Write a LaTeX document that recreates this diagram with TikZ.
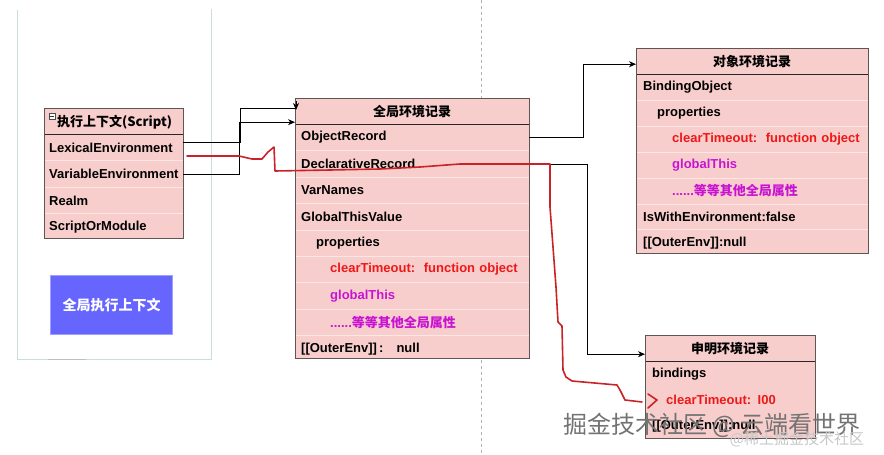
\documentclass[tikz,border=0pt]{standalone}
\usepackage{fontspec}
\setmainfont{Liberation Sans}
\newfontfamily\cjk{Noto Sans CJK SC}
\usetikzlibrary{arrows.meta,calc}
\definecolor{recfill}{RGB}{248,206,204}
\definecolor{recline}{RGB}{95,85,85}
\definecolor{sepline}{RGB}{252,230,230}
\definecolor{txtred}{RGB}{238,24,24}
\definecolor{txtmag}{RGB}{200,20,210}
\definecolor{inkred}{RGB}{200,36,40}
\definecolor{framec}{RGB}{200,222,218}
\definecolor{ctxblue}{RGB}{102,102,255}
\definecolor{ctxbord}{RGB}{160,160,255}
\begin{document}
\begin{tikzpicture}[x=1pt,y=-1pt,
  recbox/.style={fill=recfill, inner sep=0, anchor=north west},
  recedge/.style={draw=recline, line width=0.8pt},
  hdr/.style={inner sep=0, minimum height=26pt, anchor=north west, font=\cjk\bfseries\fontsize{13}{15}\selectfont},
  hline/.style={draw=black!85, line width=0.8pt},
  rowsep/.style={draw=sepline, line width=0.8pt},
  rowbase/.style={inner ysep=0, anchor=north west, align=left, font=\bfseries\fontsize{13}{15}\selectfont},
  erow/.style={rowbase, inner xsep=5pt, text width=129pt, minimum height=26pt},
  glrow/.style={rowbase, inner xsep=6pt, text width=222pt, minimum height=26pt},
  obrow/.style={rowbase, inner xsep=7pt, text width=218pt, minimum height=25.5pt},
  dcrow/.style={rowbase, inner xsep=7pt, text width=156pt, minimum height=25.5pt},
  conn/.style={draw=black, line width=0.8pt},
  arr/.style={conn, -{Stealth[length=7pt,width=6pt]}},
  ink/.style={draw=inkred, line width=1.6pt, line join=round, line cap=round},
  redtxt/.style={text=txtred},
  magtxt/.style={text=txtmag},
]
\useasboundingbox (0,0) rectangle (884,455);

% dashed divider
\draw[black!30, line width=0.8pt, dash pattern=on 3pt off 3pt] (481,0) -- (481,455);

% left frame
\draw[framec, line width=1pt] (17,10) -- (17,359) -- (211,359) -- (211,9);
\draw[black!25, line width=1pt] (48,359) -- (86,359);

% ---------- execution context ----------
\node[recbox, minimum width=139pt, minimum height=130pt] (ec) at (44,108) {};
\node[hdr, minimum width=139pt] (eh) at (ec.north west) {};
\node[anchor=west, inner sep=0, font=\cjk\bfseries\fontsize{13}{15}\selectfont] (ehtxt) at (57,122) {执行上下文(Script)};
\draw[black!70, line width=0.6pt, fill=white] (49,113) rectangle (55,119);
\draw[black!80, line width=0.7pt] (50.3,116) -- (53.7,116);
\node[erow] (ec1) at (eh.south west) {LexicalEnvironment};
\node[erow] (ec2) at (ec1.south west) {VariableEnvironment};
\node[erow] (ec3) at (ec2.south west) {Realm};
\node[erow] (ec4) at (ec3.south west) {ScriptOrModule};
\foreach \n in {ec1,ec2,ec3} \draw[rowsep] (\n.south west) -- (\n.south east);
\draw[hline] (eh.south west) -- (eh.south east);
\draw[recedge] (ec.north west) rectangle (ec.south east);

% global execution context label box
\node[fill=ctxblue, draw=ctxbord, line width=1pt, minimum width=122pt, minimum height=59pt, anchor=north west, inner sep=0, text=white, font=\cjk\bfseries\fontsize{14}{16}\selectfont] (gec) at (50,275) {全局执行上下文};

% ---------- global environment record ----------
\node[recbox, minimum width=234pt, minimum height=260pt] (ger) at (295,98) {};
\node[hdr, minimum width=234pt] (gh) at (ger.north west) {全局环境记录};
\node[glrow] (g1) at (gh.south west) {ObjectRecord};
\node[glrow] (g2) at (g1.south west) {DeclarativeRecord};
\node[glrow] (g3) at (g2.south west) {VarNames};
\node[glrow] (g4) at (g3.south west) {GlobalThisValue};
\node[glrow] (g5) at (g4.south west) {\hspace*{15pt}properties};
\node[glrow, redtxt] (g6) at (g5.south west) {\hspace*{29pt}clearTimeout:\ \ function object};
\node[glrow, magtxt] (g7) at (g6.south west) {\hspace*{29pt}globalThis};
\node[glrow, magtxt] (g8) at (g7.south west) {\hspace*{29pt}......{\cjk 等等其他全局属性}};
\node[glrow] (g9) at (g8.south west) {[[OuterEnv]]\,:\ \ \ null};
\foreach \n in {g1,g2,g3,g4,g5,g6,g7,g8} \draw[rowsep] (\n.south west) -- (\n.south east);
\draw[hline] (gh.south west) -- (gh.south east);
\draw[recedge] (ger.north west) rectangle (ger.south east);

% ---------- object environment record ----------
\node[recbox, minimum width=232pt, minimum height=204.5pt] (oer) at (636,48) {};
\node[hdr, minimum width=232pt] (oh) at (oer.north west) {对象环境记录};
\node[obrow] (o1) at (oh.south west) {BindingObject};
\node[obrow] (o2) at (o1.south west) {\hspace*{14pt}properties};
\node[obrow, redtxt] (o3) at (o2.south west) {\hspace*{29pt}clearTimeout:\ \ function object};
\node[obrow, magtxt] (o4) at (o3.south west) {\hspace*{29pt}globalThis};
\node[obrow, magtxt] (o5) at (o4.south west) {\hspace*{29pt}......{\cjk 等等其他全局属性}};
\node[obrow] (o6) at (o5.south west) {IsWithEnvironment:false};
\node[obrow] (o7) at (o6.south west) {[[OuterEnv]]:null};
\foreach \n in {o1,o2,o3,o4,o5,o6} \draw[rowsep] (\n.south west) -- (\n.south east);
\draw[hline] (oh.south west) -- (oh.south east);
\draw[recedge] (oer.north west) rectangle (oer.south east);

% ---------- declarative environment record ----------
\node[recbox, minimum width=170pt, minimum height=102.5pt] (der) at (645,335) {};
\node[hdr, minimum width=170pt] (dh) at (der.north west) {申明环境记录};
\node[dcrow] (d1) at (dh.south west) {bindings};
\node[dcrow, redtxt] (d2) at (d1.south west) {\hspace*{14pt}clearTimeout: I00};
\node[dcrow] (d3) at (d2.south west) {[[OuterEnv]]:null};
\draw[hline] (dh.south west) -- (dh.south east);
\draw[recedge] (der.north west) rectangle (der.south east);

% ---------- connectors ----------
\draw[conn] ([yshift=5pt]ec1.east) -- ++(57,0) |- ([xshift=1pt,yshift=-10pt]gh.north west);
\draw[arr] ([xshift=1pt,yshift=-3pt]gh.north west) -- ([xshift=1pt,yshift=-12pt]gh.north west);
\draw[arr] (ec2.east) -- ++(56,0) |- ([yshift=-11pt]gh.west);
\draw[arr] (g1.east) -- ++(54,0) |- ([yshift=-3pt]oh.west);
\draw[arr] (g2.east) -- ++(58,0) |- ([yshift=-6pt]dh.west);

% hand-drawn red annotation
\coordinate (rs) at (187,156);
\draw[ink] (rs) -- (239,156) -- (252,159) -- (262,159) -- (268,152) -- (274,147) -- (275,171)
  -- (330,170) -- (380,169) -- (420,167) -- (460,164) -- (550,164)
  -- (550,207) -- (553,247) -- (556,287) -- (558,322) -- (562,326) -- (563,370)
  -- (566,377) -- (572,381) -- (617,385) -- (620,390) -- (625,400) -- (642,402);
\draw[ink] (648,394) -- (657,400) -- (648,408);

% watermark
\node[inner sep=0, text=black!55, font=\cjk\fontsize{24}{26}\selectfont] (wm1) at (712,425) {掘金技术社区 @ 云端看世界};
\node[inner sep=0, text=black!22, font=\cjk\fontsize{15}{17}\selectfont] (wm2) at (797,439) {@稀土掘金技术社区};
\end{tikzpicture}
\end{document}
